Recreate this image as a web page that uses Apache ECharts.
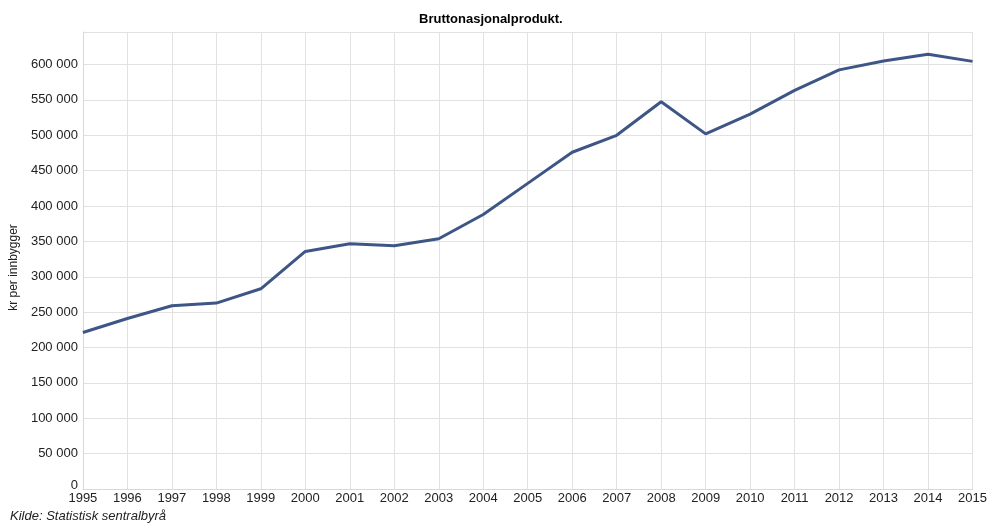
<!DOCTYPE html>
<html>
<head>
<meta charset="utf-8">
<script src="https://cdn.jsdelivr.net/npm/echarts@6/dist/echarts.min.js"></script>
<style>
html,body{margin:0;padding:0;background:#fff;}
#chart{width:990px;height:525px;}
</style>
</head>
<body>
<div id="chart"></div>
<script>
const years = ['1995','1996','1997','1998','1999','2000','2001','2002','2003','2004','2005','2006','2007','2008','2009','2010','2011','2012','2013','2014','2015'];
const bnpPerInnbygger = [221200, 241000, 259000, 262800, 283000, 335800, 346700, 343900, 353800, 388000, 432000, 476000, 500000, 547500, 502000, 530000, 563500, 592500, 605000, 614500, 604500];
const titleText = 'Bruttonasjonalprodukt.';
const yAxisName = 'kr per innbygger';
const sourceText = 'Kilde: Statistisk sentralbyrå';

const chart = echarts.init(document.getElementById('chart'), null, {renderer: 'canvas'});
const FONT = '"Liberation Sans", Arial, sans-serif';
function fmt(v) {
  if (v === 0) return '{z|0}';
  return String(v).replace(/\B(?=(\d{3})+(?!\d))/g, ' ');
}
chart.setOption({
  animation: false,
  backgroundColor: '#fff',
  textStyle: {fontFamily: FONT},
  title: {
    text: titleText,
    left: 414,
    top: 8,
    textStyle: {fontFamily: FONT, fontSize: 13, fontWeight: 'bold', color: '#000'}
  },
  graphic: [{
    type: 'text',
    left: 10,
    top: 510,
    style: {text: sourceText, font: 'italic 13px "Liberation Sans", Arial, sans-serif', fill: '#222'}
  }],
  grid: {left: 82, right: 15, top: 32, bottom: 36, containLabel: false},
  xAxis: {
    type: 'category',
    data: years,
    boundaryGap: false,
    axisLine: {show: true, lineStyle: {color: '#d8d8d8', width: 1}},
    axisTick: {show: false},
    axisLabel: {interval: 0, margin: 3, fontSize: 13, color: '#222', fontFamily: FONT},
    splitLine: {show: true, lineStyle: {color: '#e2e2e2', width: 1}}
  },
  yAxis: {
    type: 'value',
    min: 0,
    max: 646000,
    interval: 50000,
    name: yAxisName,
    nameLocation: 'middle',
    nameRotate: 90,
    nameGap: 61,
    nameTextStyle: {fontSize: 12, color: '#222', fontFamily: FONT, padding: [0, 14, 0, 0]},
    axisLine: {show: true, lineStyle: {color: '#d8d8d8', width: 1}},
    axisTick: {show: false},
    axisLabel: {
      showMaxLabel: false,
      margin: 5,
      fontSize: 13,
      color: '#222',
      fontFamily: FONT,
      formatter: fmt,
      rich: {z: {fontSize: 13, color: '#222', fontFamily: FONT, padding: [0, 0, 8, 0]}}
    },
    splitLine: {show: true, lineStyle: {color: '#e2e2e2', width: 1}}
  },
  series: [{
    type: 'line',
    data: bnpPerInnbygger,
    symbol: 'none',
    lineStyle: {color: '#3e5686', width: 3},
    itemStyle: {color: '#3e5686'}
  }]
});
</script>
</body>
</html>
